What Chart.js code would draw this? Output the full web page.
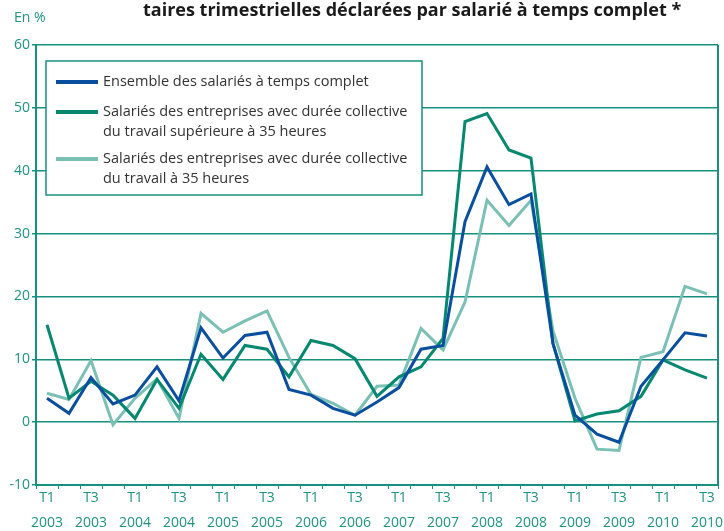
<!DOCTYPE html>
<html>
<head>
<meta charset="utf-8">
<script src="https://cdn.jsdelivr.net/npm/chart.js@4.4.1/dist/chart.umd.min.js"></script>
<style>
  body { margin: 0; background: #fff; }
  #wrap { width: 724px; height: 531px; }
</style>
</head>
<body>
<div id="wrap"><canvas id="chart" width="724" height="531"></canvas></div>
<script>
// quarters 2003 T1 .. 2010 T3
const categories = [
  'T1 2003', 'T2 2003', 'T3 2003', 'T4 2003',
  'T1 2004', 'T2 2004', 'T3 2004', 'T4 2004',
  'T1 2005', 'T2 2005', 'T3 2005', 'T4 2005',
  'T1 2006', 'T2 2006', 'T3 2006', 'T4 2006',
  'T1 2007', 'T2 2007', 'T3 2007', 'T4 2007',
  'T1 2008', 'T2 2008', 'T3 2008', 'T4 2008',
  'T1 2009', 'T2 2009', 'T3 2009', 'T4 2009',
  'T1 2010', 'T2 2010', 'T3 2010'
];

const ensemble = [3.8, 1.4, 7.1, 2.9, 4.3, 8.8, 3.4, 15.0, 10.2, 13.8, 14.3, 5.2, 4.3, 2.2, 1.1, 3.2,
  5.5, 11.6, 12.2, 31.9, 40.6, 34.6, 36.3, 12.5, 1.1, -1.9, -3.2, 5.7, 9.9, 14.2, 13.7];
const plusDe35h = [15.5, 3.8, 6.5, 4.3, 0.6, 6.8, 2.2, 10.8, 6.8, 12.2, 11.6, 7.2, 13.0, 12.2, 10.1, 4.1,
  7.2, 8.8, 13.3, 47.8, 49.1, 43.3, 42.0, 12.5, 0.2, 1.3, 1.8, 4.1, 9.9, 8.3, 7.0];
const a35h = [4.6, 3.6, 9.8, -0.4, 3.8, 6.9, 0.6, 17.3, 14.3, 16.1, 17.7, 10.3, 4.4, 3.0, 1.1, 5.7,
  5.9, 14.9, 11.5, 19.1, 35.3, 31.3, 35.3, 14.5, 3.8, -4.3, -4.5, 10.3, 11.2, 21.6, 20.4];

const seriesNames = [
  ['Ensemble des salariés à temps complet'],
  ['Salariés des entreprises avec durée collective', 'du travail supérieure à 35 heures'],
  ['Salariés des entreprises avec durée collective', 'du travail à 35 heures']
];

const yMin = -10, yMax = 60, yStep = 10;

const teal = '#17907f';
const tickColor = '#1f9384';
const colors = ['#0a4f9f', '#05886f', '#7bc0b5'];
const font = '"Open Sans", "DejaVu Sans", sans-serif';

const decorations = {
  id: 'decorations',
  beforeDatasetsDraw(chart) {
    const { ctx, chartArea: a } = chart;
    ctx.save();
    ctx.strokeStyle = teal;
    ctx.lineWidth = 2;
    ctx.beginPath();
    ctx.moveTo(a.right, a.top);
    ctx.lineTo(a.right, a.bottom);
    ctx.stroke();
    ctx.restore();
  },
  afterDraw(chart) {
    const { ctx } = chart;
    ctx.save();
    // heading (cut on the left in the original)
    ctx.fillStyle = '#1a1a1a';
    ctx.font = 'bold 18px ' + font;
    ctx.textBaseline = 'middle';
    ctx.fillText('taires trimestrielles déclarées par salarié à temps complet *', 143, 11);
    // unit
    ctx.fillStyle = tickColor;
    ctx.font = '14px ' + font;
    ctx.fillText('En %', 14, 18);

    // legend box
    ctx.fillStyle = '#fff';
    ctx.fillRect(46, 61, 376, 134);
    ctx.strokeStyle = teal;
    ctx.lineWidth = 1.5;
    ctx.strokeRect(46, 61, 376, 134);
    const rowY = [82, 112, 159];
    ctx.font = '14.5px ' + font;
    ctx.textBaseline = 'middle';
    seriesNames.forEach((lines, i) => {
      ctx.strokeStyle = colors[i];
      ctx.lineWidth = 4;
      ctx.beginPath();
      ctx.moveTo(56, rowY[i]);
      ctx.lineTo(98, rowY[i]);
      ctx.stroke();
      ctx.fillStyle = '#333';
      lines.forEach((t, j) => ctx.fillText(t, 103, rowY[i] + j * 19.5));
    });
    ctx.restore();
  }
};

new Chart(document.getElementById('chart'), {
  type: 'line',
  data: {
    labels: categories,
    datasets: [
      { label: seriesNames[0].join(' '), data: ensemble, borderColor: colors[0] },
      { label: seriesNames[1].join(' '), data: plusDe35h, borderColor: colors[1] },
      { label: seriesNames[2].join(' '), data: a35h, borderColor: colors[2] }
    ]
  },
  options: {
    responsive: false,
    animation: false,
    elements: {
      line: { borderWidth: 3, tension: 0, fill: false },
      point: { radius: 0 }
    },
    layout: { padding: { top: 45, right: 6, bottom: 0, left: 0 } },
    scales: {
      x: {
        offset: true,
        afterFit(scale) { scale.height = 46; },
        grid: {
          offset: true,
          drawOnChartArea: false,
          drawTicks: true,
          tickLength: 4,
          color: teal
        },
        border: { color: teal, width: 2 },
        ticks: {
          autoSkip: false,
          maxRotation: 0,
          minRotation: 0,
          padding: -4,
          color: tickColor,
          font: { family: font, size: 14, lineHeight: 1.8 },
          callback(value, index) {
            return index % 2 === 0 ? categories[index].split(' ') : '';
          }
        }
      },
      y: {
        min: yMin,
        max: yMax,
        afterFit(scale) { scale.width = 36; },
        grid: { color: teal, lineWidth: 1.5, tickLength: 4 },
        border: { color: teal, width: 2 },
        ticks: {
          stepSize: yStep,
          padding: 2,
          color: tickColor,
          font: { family: font, size: 14 }
        }
      }
    },
    plugins: {
      legend: { display: false },
      tooltip: { enabled: false }
    }
  },
  plugins: [decorations]
});
</script>
</body>
</html>
